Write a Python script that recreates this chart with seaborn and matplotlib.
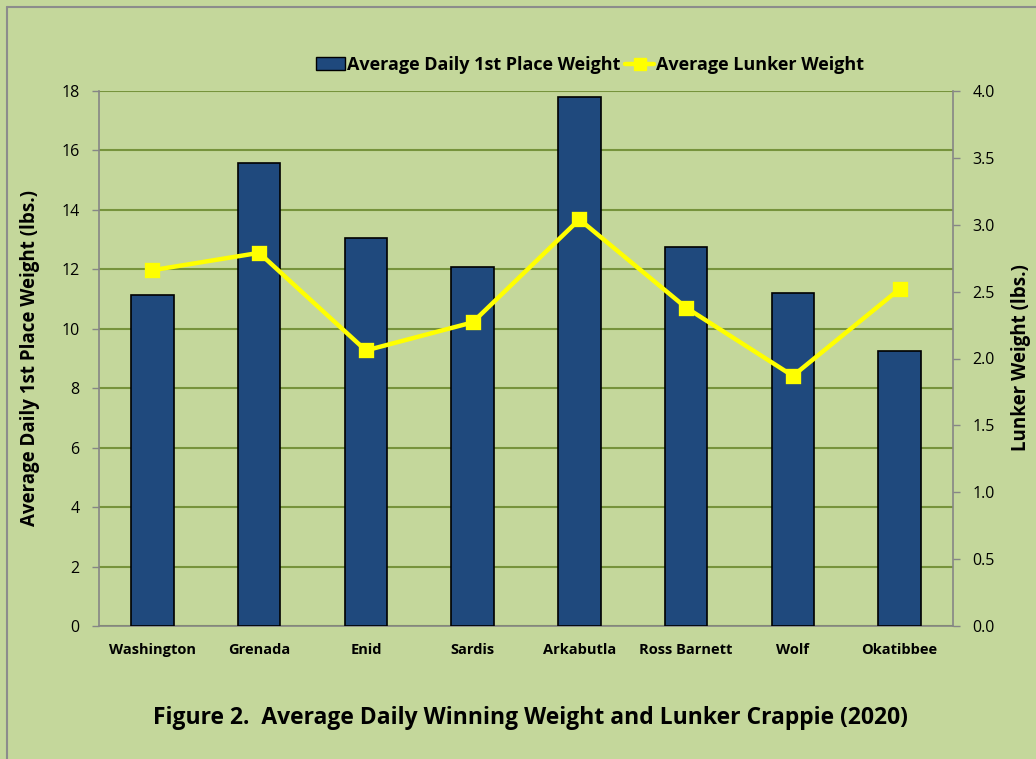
import matplotlib
matplotlib.use("Agg")
import matplotlib.pyplot as plt
import seaborn as sns
import pandas as pd
from matplotlib.patches import Patch
from matplotlib.lines import Line2D

lakes = ["Washington", "Grenada", "Enid", "Sardis", "Arkabutla", "Ross Barnett", "Wolf", "Okatibbee"]
first_place = [11.14, 15.57, 13.04, 12.07, 17.81, 12.74, 11.19, 9.26]
lunker = [2.66, 2.79, 2.06, 2.27, 3.04, 2.38, 1.87, 2.52]
left_ticks = [0, 2, 4, 6, 8, 10, 12, 14, 16, 18]
right_ticks = [0.0, 0.5, 1.0, 1.5, 2.0, 2.5, 3.0, 3.5, 4.0]

df = pd.DataFrame({"lake": lakes, "first": first_place, "lunker": lunker})

sns.set_theme(style="white")
FONT = ["Open Sans", "DejaVu Sans"]
plt.rcParams["font.family"] = FONT
for k in ["text.color", "axes.labelcolor", "xtick.color", "ytick.color"]:
    plt.rcParams[k] = "black"

BG = "#C4D79B"
GRID = "#77933C"
SPINE = "#868686"
BAR = "#1F497D"

fig = plt.figure(figsize=(10.36, 7.59), dpi=100, facecolor=BG)
ax = fig.add_axes([99/1036, 1-626/759, (953-99)/1036, (626-91)/759])
ax.set_facecolor(BG)

sns.barplot(data=df, x="lake", y="first", ax=ax, color=BAR, width=0.40,
            edgecolor="black", linewidth=1.2, saturation=1, zorder=3)
ax.set_ylim(0, 18)
ax.set_yticks(left_ticks)
ax.set_yticklabels([str(t) for t in left_ticks], fontsize=11.5)
ax.set_xlim(-0.5, len(lakes) - 0.5)
ax.yaxis.grid(True, color=GRID, linewidth=1.5, zorder=0)
ax.set_axisbelow(True)
ax.set_xlabel("")
ax.set_ylabel("")
ax.set_xticks(range(len(lakes)))
ax.set_xticklabels(lakes, fontsize=10.5, fontweight="bold")
ax.tick_params(axis="x", length=0, pad=12)
ax.set_xticks([i - 0.5 for i in range(len(lakes) + 1)], minor=True)
ax.tick_params(axis="x", which="minor", length=5, color=SPINE, width=1)
ax.tick_params(axis="y", length=5, color=SPINE, width=1, left=True, pad=9)

for s in ["top", "right"]:
    ax.spines[s].set_visible(False)
for s in ["left", "bottom"]:
    ax.spines[s].set_color(SPINE)
    ax.spines[s].set_linewidth(1.2)

ax2 = ax.twinx()
sns.pointplot(data=df, x="lake", y="lunker", ax=ax2, color="#FFFF00",
              markers="s", linestyles="-", markersize=9, linewidth=3.2, zorder=4)
ax2.set_ylim(0, 4)
ax2.set_yticks(right_ticks)
ax2.set_yticklabels([f"{t:.1f}" for t in right_ticks], fontsize=11.5)
ax2.set_xlim(-0.5, len(lakes) - 0.5)
ax2.set_ylabel("")
ax2.tick_params(axis="y", length=5, color=SPINE, width=1, right=True, pad=9)
for s in ["top", "left", "bottom"]:
    ax2.spines[s].set_visible(False)
ax2.spines["right"].set_color(SPINE)
ax2.spines["right"].set_linewidth(1.2)
ax2.grid(False)
ax2.set_xlabel("")

fig.text(30/1036, 1-358/759, "Average Daily 1st Place Weight (lbs.)", rotation=90,
         ha="center", va="center", fontsize=13.5, fontweight="bold")
fig.text(1021/1036, 1-358/759, "Lunker Weight (lbs.)", rotation=90,
         ha="center", va="center", fontsize=13.5, fontweight="bold")

handles = [Patch(facecolor=BAR, edgecolor="black", linewidth=1),
           Line2D([0], [0], color="#FFFF00", linewidth=3.2, marker="s", markersize=9)]
fig.legend(handles, ["Average Daily 1st Place Weight", "Average Lunker Weight"],
           loc="center", bbox_to_anchor=(590/1036, 1-65/759), ncol=2, frameon=False,
           prop={"family": FONT, "weight": "bold", "size": 13},
           handlelength=1.6, handletextpad=0.1, columnspacing=0.3)

fig.text(530/1036, 1-718/759, "Figure 2.  Average Daily Winning Weight and Lunker Crappie (2020)",
         ha="center", va="center", fontsize=16.5, fontweight="bold")

fig.add_artist(Line2D([7/1036, 7/1036], [0, 1-7/759], color="#8C8C8C", linewidth=1.5, transform=fig.transFigure))
fig.add_artist(Line2D([7/1036, 1], [1-7/759, 1-7/759], color="#8C8C8C", linewidth=1.5, transform=fig.transFigure))

fig.savefig("out.png", dpi=100, facecolor=BG)
